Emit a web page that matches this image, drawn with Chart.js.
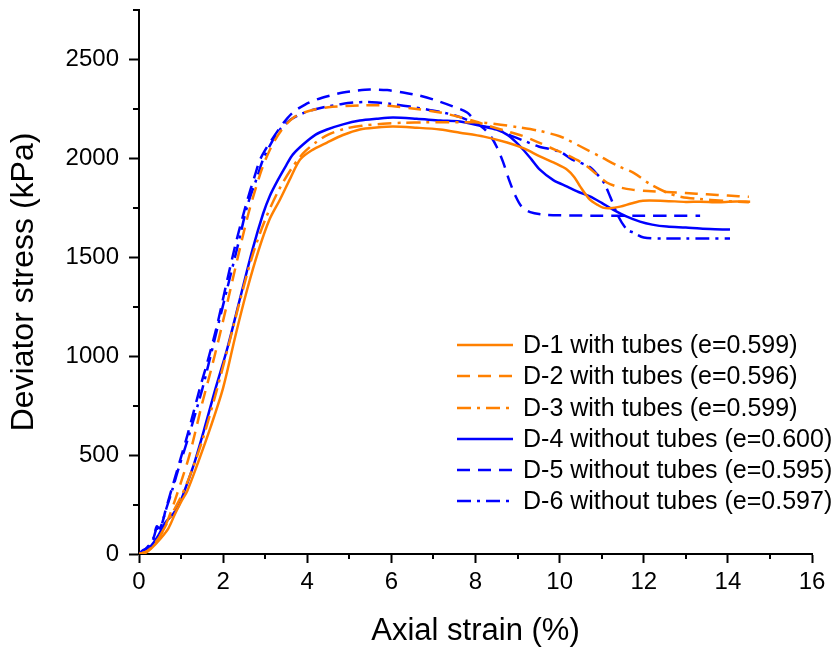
<!DOCTYPE html>
<html lang="en">
  <head>
    <meta charset="UTF-8" />
    <title>Deviator stress vs axial strain</title>
    <script src="https://cdn.jsdelivr.net/npm/chart.js"></script>
    <style>
      body { margin: 0; background: #fff; }
    </style>
  </head>
  <body>
    <canvas id="stressChart" width="840" height="650"></canvas>

    <script>
      // values (strain in %, stress in kPa)
      const d1Strain = [0, 0.15, 0.3, 0.5, 0.7, 0.85, 1.0, 1.15, 1.4, 1.7, 2.0, 2.3, 2.57, 2.85, 3.1, 3.35, 3.6, 3.83, 4.1, 4.47, 4.85, 5.25, 5.65, 6.04, 6.6, 7.16, 7.63, 8.2, 8.75, 9.15, 9.53, 9.9, 10.18, 10.35, 10.49, 10.72, 10.9, 11.03, 11.2, 11.44, 11.7, 11.98, 12.5, 13.0, 13.34, 13.8, 14.2, 14.53];
      const d1Stress = [0, 5, 30, 75, 130, 200, 263, 320, 460, 640, 840, 1110, 1336, 1540, 1690, 1791, 1900, 1994, 2040, 2080, 2118, 2146, 2156, 2161, 2155, 2146, 2130, 2110, 2080, 2050, 2010, 1975, 1943, 1905, 1857, 1791, 1765, 1751, 1748, 1756, 1772, 1786, 1785, 1780, 1781, 1778, 1782, 1781];

      const d2Strain = [0, 0.2, 0.4, 0.55, 0.7, 0.9, 1.2, 1.5, 1.7, 1.9, 2.1, 2.35, 2.6, 2.85, 3.0, 3.2, 3.45, 3.7, 3.9, 4.2, 4.5, 4.9, 5.3, 5.7, 6.1, 6.6, 7.16, 7.6, 8.0, 8.3, 8.7, 9.1, 9.45, 9.77, 10.15, 10.56, 10.85, 11.12, 11.4, 11.72, 12.1, 12.55, 13.0, 13.5, 14.0, 14.5];
      const d2Stress = [0, 15, 60, 110, 180, 300, 500, 760, 920, 1090, 1270, 1500, 1720, 1900, 1990, 2080, 2160, 2210, 2230, 2248, 2258, 2264, 2268, 2268, 2262, 2250, 2232, 2210, 2186, 2165, 2140, 2115, 2085, 2055, 2020, 1974, 1925, 1878, 1855, 1842, 1835, 1830, 1825, 1818, 1812, 1806];

      const d3Strain = [0, 0.2, 0.4, 0.6, 0.8, 1.0, 1.2, 1.5, 1.8, 2.1, 2.4, 2.7, 3.0, 3.3, 3.6, 3.9, 4.2, 4.5, 4.9, 5.3, 5.8, 6.3, 6.8, 7.3, 7.8, 8.18, 8.6, 9.0, 9.5, 10.0, 10.18, 10.5, 11.0, 11.4, 11.75, 12.15, 12.55, 12.9, 13.3, 13.9, 14.5];
      const d3Stress = [0, 15, 55, 130, 210, 290, 390, 570, 790, 1030, 1280, 1510, 1690, 1830, 1940, 2025, 2080, 2120, 2150, 2165, 2175, 2180, 2182, 2183, 2182, 2181, 2170, 2158, 2140, 2112, 2095, 2060, 2005, 1960, 1928, 1870, 1827, 1805, 1795, 1785, 1778];

      const d4Strain = [0, 0.1, 0.26, 0.45, 0.62, 0.8, 0.93, 1.1, 1.33, 1.55, 1.81, 2.1, 2.4, 2.7, 2.95, 3.11, 3.3, 3.5, 3.66, 3.9, 4.2, 4.47, 4.85, 5.25, 5.65, 6.04, 6.6, 7.16, 7.63, 8.18, 8.5, 8.75, 8.95, 9.13, 9.33, 9.53, 9.85, 10.18, 10.45, 10.72, 11.0, 11.27, 11.6, 11.91, 12.2, 12.55, 13.0, 13.34, 13.7, 14.05];
      const d4Stress = [0, 20, 35, 90, 157, 200, 238, 330, 470, 630, 830, 1040, 1290, 1540, 1720, 1810, 1890, 1965, 2020, 2070, 2120, 2146, 2172, 2191, 2200, 2206, 2200, 2191, 2186, 2161, 2145, 2120, 2085, 2045, 1995, 1943, 1890, 1857, 1830, 1808, 1775, 1741, 1705, 1680, 1665, 1655, 1650, 1645, 1642, 1640];

      const d5Strain = [0, 0.2, 0.35, 0.42, 0.5, 0.65, 0.8, 0.93, 1.15, 1.45, 1.6, 1.85, 2.05, 2.3, 2.55, 2.75, 2.88, 3.05, 3.19, 3.4, 3.66, 3.95, 4.23, 4.55, 4.85, 5.2, 5.49, 5.9, 6.28, 6.65, 6.99, 7.47, 7.8, 8.0, 8.2, 8.35, 8.5, 8.65, 8.8, 8.95, 9.1, 9.3, 9.6, 10.0, 11.0, 12.0, 12.7, 13.34];
      const d5Stress = [0, 35, 85, 130, 125, 235, 345, 440, 600, 840, 950, 1150, 1340, 1570, 1770, 1910, 1994, 2060, 2105, 2170, 2232, 2272, 2298, 2318, 2333, 2343, 2348, 2345, 2333, 2318, 2298, 2262, 2232, 2186, 2150, 2115, 2060, 1985, 1890, 1810, 1755, 1728, 1716, 1712, 1710, 1710, 1710, 1710];

      const d6Strain = [0, 0.2, 0.35, 0.42, 0.5, 0.65, 0.8, 0.93, 1.17, 1.5, 1.62, 1.85, 2.09, 2.35, 2.57, 2.8, 2.95, 3.15, 3.35, 3.6, 3.83, 4.1, 4.47, 4.8, 5.09, 5.4, 5.66, 6.0, 6.44, 6.9, 7.23, 7.6, 8.2, 8.4, 8.9, 9.2, 9.5, 10.0, 10.3, 10.7, 10.9, 11.05, 11.2, 11.4, 11.6, 11.75, 12.0, 12.5, 13.0, 13.5, 14.05];
      const d6Stress = [0, 30, 80, 140, 130, 230, 330, 425, 587, 830, 931, 1130, 1336, 1560, 1756, 1900, 1994, 2080, 2146, 2195, 2222, 2243, 2262, 2274, 2282, 2285, 2282, 2275, 2262, 2245, 2232, 2211, 2161, 2156, 2110, 2085, 2060, 2034, 1994, 1958, 1918, 1878, 1807, 1705, 1640, 1625, 1600, 1595, 1595, 1595, 1595];

      const seriesLabels = [
        "D-1 with tubes (e=0.599)",
        "D-2 with tubes (e=0.596)",
        "D-3 with tubes (e=0.599)",
        "D-4 without tubes (e=0.600)",
        "D-5 without tubes (e=0.595)",
        "D-6 without tubes (e=0.597)",
      ];

      const ORANGE = "#FF8000";
      const BLUE = "#0000FF";
      const SOLID = [];
      const DASH = [13, 8];
      const DASHDOT = [14, 6, 3, 6];

      function toPoints(xs, ys) {
        return xs.map((x, i) => ({ x: x, y: ys[i] }));
      }

      function makeSet(i, xs, ys, color, dash) {
        return {
          label: seriesLabels[i],
          data: toPoints(xs, ys),
          showLine: true,
          borderColor: color,
          backgroundColor: color,
          borderWidth: 2.5,
          borderDash: dash,
          pointRadius: 0,
          tension: 0.3,
          fill: false,
        };
      }

      Chart.defaults.font.family = "'Liberation Sans', Arial, sans-serif";
      Chart.defaults.color = "#000";

      // minor ticks (Chart.js has none of its own)
      const minorTicks = {
        id: "minorTicks",
        afterDraw(chart) {
          const ctx = chart.ctx;
          const xs = chart.scales.x;
          const ys = chart.scales.y;
          ctx.save();
          ctx.strokeStyle = "#000";
          ctx.lineWidth = 2;
          ctx.beginPath();
          for (let v = 1; v < 16; v += 2) {
            const px = Math.round(xs.getPixelForValue(v));
            ctx.moveTo(px, xs.top);
            ctx.lineTo(px, xs.top + 5);
          }
          for (let v = 250; v <= 2750; v += 500) {
            const py = Math.round(ys.getPixelForValue(v));
            ctx.moveTo(ys.right, py);
            ctx.lineTo(ys.right - 6, py);
          }
          ctx.stroke();
          ctx.restore();
        },
      };

      // legend inside the plot, lower right
      const insideLegend = {
        id: "insideLegend",
        afterDraw(chart) {
          const ctx = chart.ctx;
          const x0 = 457, x1 = 513, tx = 523;
          const rowY = [345, 376, 408, 439, 470, 501];
          ctx.save();
          ctx.font = "25px 'Liberation Sans', Arial, sans-serif";
          ctx.textBaseline = "middle";
          ctx.fillStyle = "#000";
          chart.data.datasets.forEach((ds, i) => {
            const y = rowY[i];
            ctx.strokeStyle = ds.borderColor;
            ctx.lineWidth = ds.borderWidth;
            ctx.setLineDash(ds.borderDash);
            ctx.beginPath();
            ctx.moveTo(x0, y);
            ctx.lineTo(x1, y);
            ctx.stroke();
            ctx.setLineDash([]);
            ctx.fillText(ds.label, tx, y + 1);
          });
          ctx.restore();
        },
      };

      const ctx = document.getElementById("stressChart").getContext("2d");
      new Chart(ctx, {
        type: "scatter",
        data: {
          datasets: [
            makeSet(0, d1Strain, d1Stress, ORANGE, SOLID),
            makeSet(1, d2Strain, d2Stress, ORANGE, DASH),
            makeSet(2, d3Strain, d3Stress, ORANGE, DASHDOT),
            makeSet(3, d4Strain, d4Stress, BLUE, SOLID),
            makeSet(4, d5Strain, d5Stress, BLUE, DASH),
            makeSet(5, d6Strain, d6Stress, BLUE, DASHDOT),
          ],
        },
        options: {
          responsive: false,
          animation: false,
          layout: { padding: { top: 10, right: 28, left: 0, bottom: 0 } },
          plugins: {
            legend: { display: false },
            tooltip: { enabled: false },
          },
          scales: {
            x: {
              type: "linear",
              min: 0,
              max: 16,
              ticks: { stepSize: 2, font: { size: 24 }, color: "#000", padding: 5, maxRotation: 0 },
              grid: { drawOnChartArea: false, drawTicks: true, tickLength: 9, tickColor: "#000", tickWidth: 2 },
              border: { display: true, color: "#000", width: 2 },
              title: {
                display: true,
                text: "Axial strain (%)",
                font: { size: 31 },
                color: "#000",
                padding: { top: 0, bottom: 0 },
              },
              afterFit(scale) {
                scale.height = 96;
                scale.paddingLeft = 0;
                scale.paddingRight = 0;
              },
            },
            y: {
              type: "linear",
              min: 0,
              max: 2750,
              ticks: {
                stepSize: 250,
                font: { size: 24 },
                color: "#000",
                padding: 10,
                callback: (v) => (v % 500 === 0 ? String(v) : ""),
              },
              grid: {
                drawOnChartArea: false,
                drawTicks: true,
                tickLength: 10,
                tickWidth: 2,
                tickColor: (c) => (c.tick && c.tick.value % 500 === 0 ? "#000" : "rgba(0,0,0,0)"),
              },
              border: { display: true, color: "#000", width: 2 },
              title: {
                display: true,
                text: "Deviator stress (kPa)",
                font: { size: 32 },
                color: "#000",
                padding: { top: 5, bottom: 0 },
              },
              afterFit(scale) {
                scale.width = 139;
                scale.paddingTop = 0;
                scale.paddingBottom = 0;
              },
            },
          },
        },
        plugins: [minorTicks, insideLegend],
      });
    </script>
  </body>
</html>
